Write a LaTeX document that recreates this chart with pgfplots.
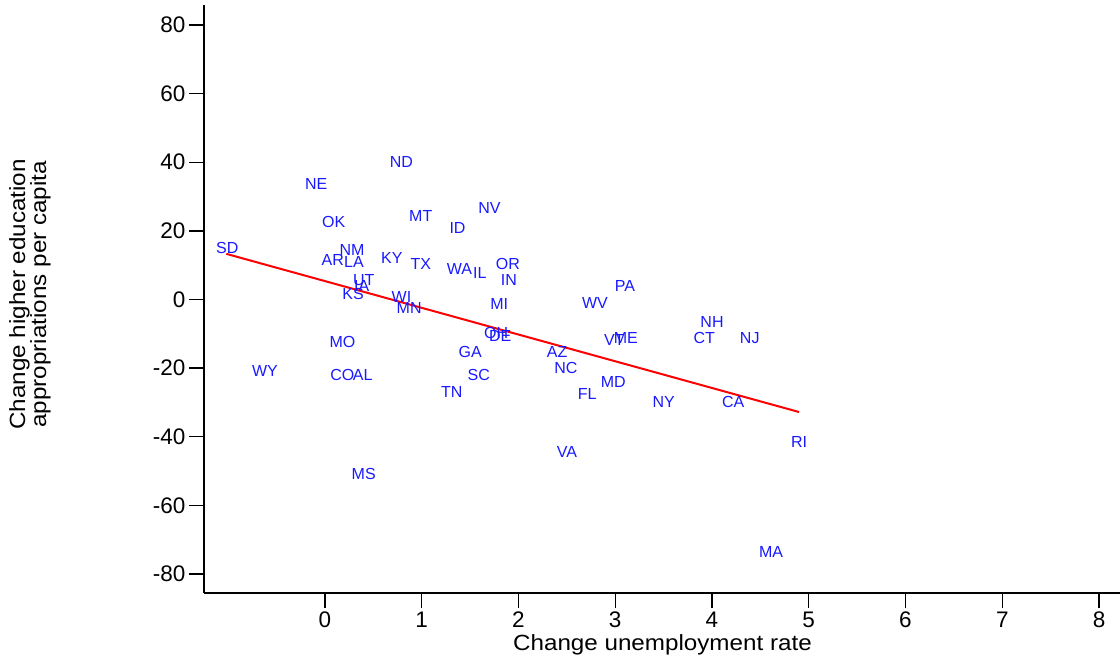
\documentclass[border=0pt]{standalone}
\usepackage{fontspec}
\setmainfont{Liberation Sans}
\usepackage{graphicx}
\usepackage{pgfplots}
\usepackage{pgfplotstable}
\pgfplotsset{compat=1.18}
\definecolor{lblblue}{RGB}{25,25,255}
\pgfplotstableread{
x y st
-1.01 14.9 SD
-0.09 33.7 NE
0.79 40.1 ND
0.09 22.6 OK
0.99 24.3 MT
1.37 20.8 ID
1.70 26.7 NV
0.28 14.4 NM
0.08 11.4 AR
0.30 10.8 LA
0.69 12.1 KY
0.99 10.3 TX
1.39 8.9 WA
1.60 7.7 IL
1.89 10.3 OR
1.90 5.7 IN
0.40 5.8 UT
0.38 3.9 IA
0.29 1.6 KS
0.79 0.6 WI
0.87 -2.5 MN
1.80 -1.3 MI
3.10 3.9 PA
2.79 -1.0 WV
4.00 -6.6 NH
3.92 -11.2 CT
4.39 -11.2 NJ
3.11 -11.3 ME
2.99 -11.8 VT
1.77 -9.8 OH
1.81 -10.6 DE
2.40 -15.3 AZ
1.50 -15.3 GA
0.18 -12.4 MO
-0.62 -20.7 WY
0.18 -21.9 CO
0.39 -21.9 AL
1.59 -21.9 SC
2.49 -20.0 NC
2.98 -24.0 MD
2.71 -27.5 FL
1.31 -27.0 TN
3.50 -29.9 NY
4.22 -29.9 CA
4.90 -41.5 RI
2.50 -44.4 VA
0.40 -50.9 MS
4.61 -73.6 MA
}\statedata

\begin{document}
\begin{tikzpicture}
\path[use as bounding box] (0,0) rectangle (1120bp,662bp);
\begin{axis}[
  at={(204bp,69bp)}, anchor=south west,
  scale only axis, width=916bp, height=588bp,
  xmin=-1.2506, xmax=8.217, ymin=-85.54, ymax=85.83,
  axis lines=left, axis line style={-, line width=1.4bp, black},
  tick align=outside, major tick length=15bp,
  tick style={line width=1.4bp, black},
  xtick={0,1,...,8}, ytick={-80,-60,...,80},
  /pgf/number format/assume math mode=true,
  ticklabel style={font=\fontsize{22.5bp}{24bp}\selectfont},
  xlabel={\scalebox{1.1}[1]{Change unemployment rate}},
  ylabel={\scalebox{1.1}[1]{\begin{tabular}{@{}c@{}}Change higher education\\[-3bp]appropriations per capita\end{tabular}}},
  x label style={at={(axis description cs:0.5005,-0.0884)}, anchor=center, font=\fontsize{22bp}{24bp}\selectfont},
  y label style={at={(axis description cs:-0.189,0.508)}, anchor=center, font=\fontsize{22bp}{24bp}\selectfont},
  clip=false,
]
\addplot[only marks, mark=none, nodes near coords, point meta=explicit symbolic,
  every node near coord/.append style={anchor=center, inner sep=0pt, text=lblblue, font=\fontsize{16bp}{18bp}\selectfont}]
  table[x=x, y=y, meta=st] {\statedata};
\addplot[red, line width=2bp] coordinates {(-1.02,13.3) (4.90,-32.8)};
\end{axis}
\end{tikzpicture}
\end{document}
